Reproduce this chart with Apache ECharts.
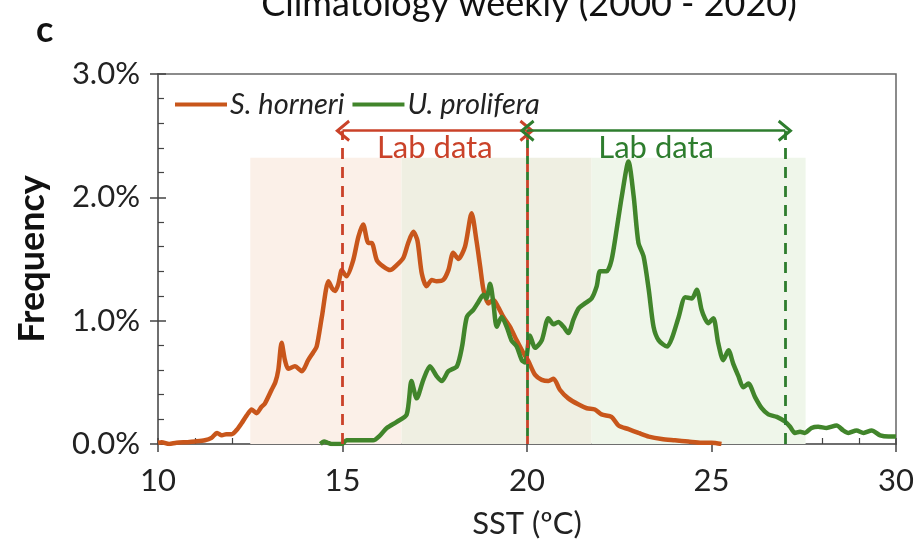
<!DOCTYPE html>
<html><head><meta charset="utf-8">
<script src="https://cdn.jsdelivr.net/npm/echarts@6/dist/echarts.min.js"></script>
<style>html,body{margin:0;padding:0;background:#fff}#c{width:923px;height:546px}</style>
</head><body><div id="c"></div>
<script>
// ---- data ----
const titleText = 'Climatology weekly (2000 - 2020)';
const panelLabel = 'c';
const xAxisName = 'SST (ºC)';
const yAxisName = 'Frequency';
const xTickLabels = ['10','15','20','25','30'];
const yTickLabels = ['0.0%','1.0%','2.0%','3.0%'];
const seriesNames = ['S. horneri','U. prolifera'];

const horneriT = [10.0,10.1,10.3,10.5,10.8,11.0,11.27,11.45,11.6,11.73,11.85,12.0,12.15,12.27,12.4,12.54,12.67,12.8,12.9,13.08,13.18,13.26,13.35,13.44,13.53,13.71,13.9,14.07,14.2,14.3,14.44,14.62,14.72,14.8,14.89,14.98,15.05,15.11,15.29,15.43,15.56,15.7,15.79,15.93,16.1,16.29,16.47,16.65,16.78,16.92,17.03,17.15,17.28,17.42,17.55,17.73,17.87,18.0,18.14,18.32,18.5,18.63,18.73,18.82,18.95,19.09,19.22,19.36,19.54,19.72,19.9,20.04,20.22,20.4,20.58,20.72,20.89,21.12,21.4,21.62,21.84,22.02,22.29,22.48,22.75,23.02,23.3,23.65,24.01,24.37,24.73,25.0,25.27];
const horneriV = [0.01,0.015,0.0,0.01,0.015,0.02,0.03,0.05,0.09,0.07,0.08,0.08,0.12,0.17,0.23,0.28,0.25,0.30,0.33,0.44,0.50,0.60,0.82,0.68,0.61,0.63,0.59,0.68,0.74,0.79,1.03,1.32,1.26,1.24,1.30,1.41,1.38,1.36,1.49,1.68,1.78,1.63,1.63,1.49,1.44,1.41,1.45,1.51,1.63,1.72,1.65,1.38,1.28,1.33,1.32,1.33,1.41,1.55,1.50,1.60,1.87,1.65,1.44,1.25,1.14,1.17,1.11,1.03,0.95,0.84,0.74,0.67,0.56,0.52,0.51,0.53,0.44,0.37,0.32,0.29,0.28,0.24,0.22,0.15,0.12,0.09,0.06,0.04,0.03,0.02,0.01,0.01,0.0];

const proliferaT = [14.4,14.5,14.6,14.7,14.98,15.11,15.5,15.83,16.02,16.2,16.47,16.74,16.87,17.01,17.19,17.37,17.55,17.69,17.87,18.1,18.24,18.37,18.55,18.68,18.82,18.9,19.0,19.09,19.18,19.31,19.45,19.58,19.72,19.86,19.95,20.08,20.22,20.4,20.58,20.72,20.85,20.99,21.12,21.26,21.4,21.57,21.75,21.89,21.98,22.16,22.29,22.43,22.57,22.75,22.89,23.02,23.16,23.3,23.43,23.57,23.8,23.93,24.11,24.29,24.47,24.6,24.73,24.82,24.91,25.05,25.18,25.32,25.46,25.59,25.73,25.86,26.0,26.18,26.36,26.54,26.77,27.0,27.13,27.26,27.4,27.53,27.71,27.89,28.12,28.39,28.57,28.71,28.93,29.12,29.34,29.57,29.8,30.0];
const proliferaV = [0.0,0.02,0.01,0.0,0.0,0.03,0.03,0.03,0.07,0.13,0.18,0.24,0.51,0.37,0.52,0.63,0.55,0.51,0.59,0.63,0.79,1.03,1.09,1.15,1.21,1.18,1.30,1.14,0.95,1.03,0.95,0.84,0.79,0.68,0.66,0.88,0.78,0.84,1.02,0.97,0.99,0.95,0.90,1.01,1.10,1.14,1.18,1.28,1.40,1.40,1.49,1.74,2.01,2.29,2.01,1.63,1.52,1.25,0.95,0.84,0.79,0.86,1.03,1.19,1.18,1.25,1.09,1.02,0.98,1.02,0.82,0.68,0.76,0.65,0.55,0.46,0.49,0.38,0.29,0.24,0.22,0.18,0.14,0.09,0.10,0.09,0.13,0.14,0.13,0.15,0.11,0.09,0.11,0.09,0.11,0.07,0.06,0.06];

// annotation values (temperatures / frequency levels)
const labRangeHorneri = [15, 20];
const labRangeProlifera = [20, 27];
const shadeHorneri = [12.5, 21.75];
const shadeProlifera = [16.6, 27.55];
const shadeTop = 2.32;
const arrowLevel = 2.54;

// ---- chart ----
const FONT = 'Lato, "Open Sans", sans-serif';
const ORANGE = '#C8561B', GREEN = '#41852B';
const RED_ANN = '#CA4229', GREEN_ANN = '#2E7D2E';
const chevron = 'path://M10,0 L20,12 L17.8,13.6 L10,4.4 L2.2,13.6 L0,12 Z';
const pairs = (t, v) => t.map((x, i) => [x, v[i]]);

const chart = echarts.init(document.getElementById('c'), null, {renderer: 'canvas'});

const gridPos = {left: 158, right: 27, top: 74, bottom: 102};

chart.setOption({
  animation: false,
  backgroundColor: '#fff',
  graphic: [
    {type: 'text', x: 529, y: 4, style: {text: titleText, font: '36px ' + FONT, fill: '#111', align: 'center', verticalAlign: 'middle'}},
    {type: 'text', x: 36, y: 30, style: {text: panelLabel, font: 'bold 36px ' + FONT, fill: '#111', align: 'left', verticalAlign: 'middle'}}
  ],
  grid: [
    Object.assign({show: true, borderColor: '#666', borderWidth: 1.5, backgroundColor: 'transparent'}, gridPos),
    Object.assign({show: false}, gridPos)
  ],
  legend: {
    data: seriesNames.map(n => ({name: n, icon: 'rect'})),
    left: 170, top: 85,
    itemWidth: 52, itemHeight: 4, itemGap: 8,
    textStyle: {fontFamily: FONT, fontSize: 29, fontStyle: 'italic', color: '#222', padding: [0, 0, 0, -2]}
  },
  xAxis: [
    {
      type: 'value', min: 10, max: 30, interval: 5, gridIndex: 0,
      name: xAxisName, nameLocation: 'middle', nameGap: 64,
      nameTextStyle: {fontFamily: FONT, fontSize: 31, color: '#222'},
      axisLine: {lineStyle: {color: '#666', width: 1.5}},
      axisTick: {show: true, inside: false, length: 8, lineStyle: {color: '#444', width: 1.5}},
      axisLabel: {margin: 21, fontFamily: FONT, fontSize: 31, color: '#222',
        formatter: v => xTickLabels[Math.round((v - 10) / 5)]},
      splitLine: {show: false}
    },
    {
      type: 'value', min: 10, max: 30, interval: 5, gridIndex: 1,
      axisLine: {show: false},
      axisTick: {show: true, inside: true, length: 6, lineStyle: {color: '#444', width: 1.5}},
      minorTick: {show: true, splitNumber: 5, length: 6, lineStyle: {color: '#444', width: 1.2}},
      axisLabel: {show: false}, splitLine: {show: false}
    }
  ],
  yAxis: [
    {
      type: 'value', min: 0, max: 3, interval: 1, gridIndex: 0,
      name: yAxisName, nameLocation: 'middle', nameGap: 108,
      nameTextStyle: {fontFamily: FONT, fontSize: 36, fontWeight: 'bold', color: '#111'},
      axisLine: {show: true, lineStyle: {color: '#666', width: 1.5}},
      axisTick: {show: true, inside: false, length: 8, lineStyle: {color: '#444', width: 1.5}},
      axisLabel: {margin: 18, fontFamily: FONT, fontSize: 31, color: '#222',
        formatter: v => yTickLabels[Math.round(v)]},
      splitLine: {show: false}
    },
    {
      type: 'value', min: 0, max: 3, interval: 1, gridIndex: 1,
      axisLine: {show: false},
      axisTick: {show: true, inside: true, length: 8, lineStyle: {color: '#444', width: 1.5}},
      minorTick: {show: true, splitNumber: 5, length: 6, lineStyle: {color: '#444', width: 1.2}},
      axisLabel: {show: false}, splitLine: {show: false}
    }
  ],
  series: [
    {
      type: 'line', name: 'shade', data: [], z: 0, silent: true,
      markArea: {
        silent: true,
        data: [
          [{xAxis: shadeHorneri[0], yAxis: 0, itemStyle: {color: '#FBF0E8'}}, {xAxis: shadeProlifera[0], yAxis: shadeTop}],
          [{xAxis: shadeProlifera[0], yAxis: 0, itemStyle: {color: '#EFEFE2'}}, {xAxis: shadeHorneri[1], yAxis: shadeTop}],
          [{xAxis: shadeHorneri[1], yAxis: 0, itemStyle: {color: '#EFF6EA'}}, {xAxis: shadeProlifera[1], yAxis: shadeTop}]
        ]
      }
    },
    {
      type: 'line', name: seriesNames[0], data: pairs(horneriT, horneriV),
      symbol: 'none', smooth: 0.25, z: 3,
      lineStyle: {color: ORANGE, width: 4.5}, itemStyle: {color: ORANGE}
    },
    {
      type: 'line', name: seriesNames[1], data: pairs(proliferaT, proliferaV),
      symbol: 'none', smooth: 0.25, z: 4,
      lineStyle: {color: GREEN, width: 4.5}, itemStyle: {color: GREEN}
    },
    {
      type: 'line', name: 'ann', data: [], z: 5, silent: true,
      markLine: {
        silent: true, animation: false,
        data: [
          [{coord: [labRangeHorneri[0], 0], symbol: 'none', lineStyle: {color: RED_ANN, width: 2.8, type: [11, 8]}},
           {coord: [labRangeHorneri[0], arrowLevel], symbol: 'none'}],
          [{coord: [labRangeHorneri[1], 0], symbol: 'none', lineStyle: {color: RED_ANN, width: 2.8, type: [8, 8]}},
           {coord: [labRangeHorneri[1], arrowLevel], symbol: 'none'}],
          [{coord: [labRangeProlifera[0], 0], symbol: 'none', lineStyle: {color: GREEN_ANN, width: 2.8, type: [8, 8], dashOffset: 8}},
           {coord: [labRangeProlifera[0], arrowLevel], symbol: 'none'}],
          [{coord: [labRangeProlifera[1], 0], symbol: 'none', lineStyle: {color: GREEN_ANN, width: 2.8, type: [11, 8]}},
           {coord: [labRangeProlifera[1], arrowLevel], symbol: 'none'}],
          [{coord: [labRangeHorneri[0], arrowLevel], symbol: chevron, symbolSize: [22, 15],
            lineStyle: {color: RED_ANN, width: 2.5, type: 'solid'},
            label: {show: true, formatter: 'Lab data', position: 'insideMiddleBottom', distance: 2,
              fontFamily: FONT, fontSize: 31, color: RED_ANN}},
           {coord: [labRangeHorneri[1], arrowLevel], symbol: chevron, symbolSize: [22, 15]}],
          [{coord: [labRangeProlifera[0], arrowLevel], symbol: chevron, symbolSize: [22, 15],
            lineStyle: {color: GREEN_ANN, width: 2.5, type: 'solid'},
            label: {show: true, formatter: 'Lab data', position: 'insideMiddleBottom', distance: 2,
              fontFamily: FONT, fontSize: 31, color: GREEN_ANN}},
           {coord: [labRangeProlifera[1], arrowLevel], symbol: chevron, symbolSize: [22, 15]}]
        ]
      }
    }
  ]
});
</script>
</body></html>
